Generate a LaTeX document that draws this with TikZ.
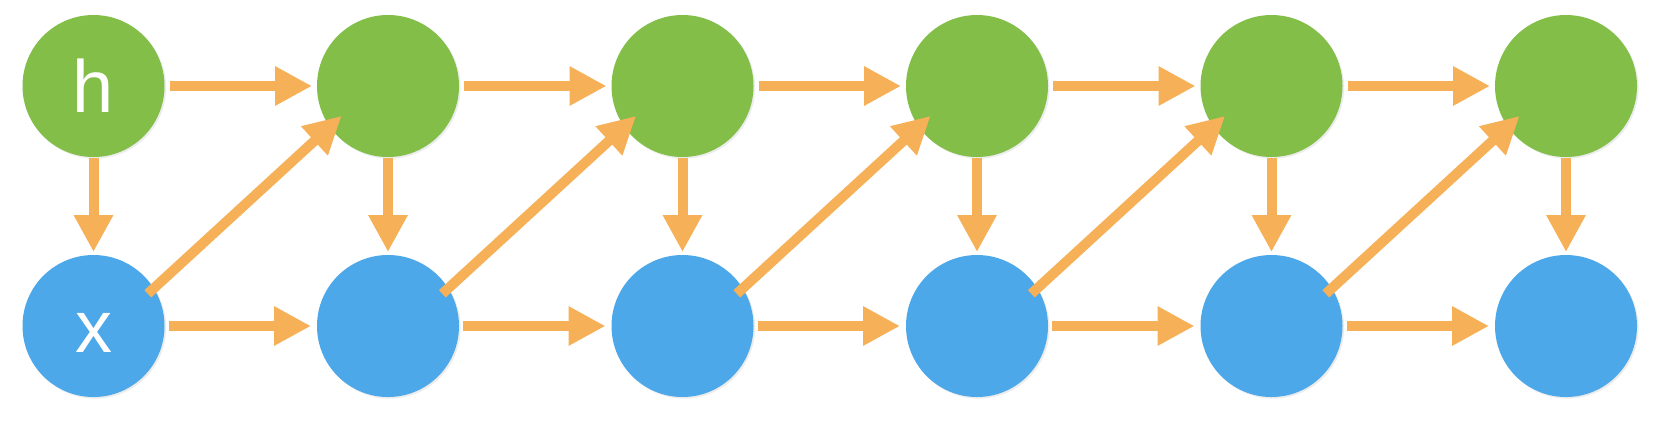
\documentclass[tikz,border=0pt]{standalone}
\usepackage{fontspec}
\setmainfont{Liberation Sans}
\usetikzlibrary{arrows.meta,shadows}
\definecolor{hgreen}{RGB}{130,190,72}
\definecolor{xblue}{RGB}{76,168,232}
\definecolor{arr}{RGB}{246,176,88}
\begin{document}
\begin{tikzpicture}[x=0.5pt,y=-0.5pt,
 cell/.style={circle, minimum size=71pt, inner sep=0pt, outer sep=0pt, text=white,
   font=\fontsize{37}{40}\selectfont, text height=26pt, text depth=0pt,
   drop shadow={opacity=0.15,shadow xshift=0.8pt,shadow yshift=-0.8pt}},
 hcell/.style={cell, fill=hgreen},
 xcell/.style={cell, fill=xblue},
 link/.style={draw=arr, line width=5pt, -{Triangle[length=18.5pt,width=18.5pt]}}
]
\fill[white] (0,0) rectangle (1660,420);
\useasboundingbox (0,0) rectangle (1660,420);
\node[hcell] (g0) at (93.5,86) {h};
\node[hcell] (g1) at (388,86) {};
\node[hcell] (g2) at (682.5,86) {};
\node[hcell] (g3) at (977,86) {};
\node[hcell] (g4) at (1271.5,86) {};
\node[hcell] (g5) at (1566,86) {};
\node[xcell] (b0) at (93.5,326) {x};
\node[xcell] (b1) at (388,326) {};
\node[xcell] (b2) at (682.5,326) {};
\node[xcell] (b3) at (977,326) {};
\node[xcell] (b4) at (1271.5,326) {};
\node[xcell] (b5) at (1566,326) {};
\foreach \i [evaluate=\i as \j using int(\i+1)] in {0,...,4} {
  \draw[link, shorten <=2.5pt, shorten >=2.5pt] (g\i) -- (g\j);
  \draw[link, shorten <=2pt, shorten >=3pt] (b\i) -- (b\j);
  \draw[link, shorten <=-4pt, shorten >=-8pt] (b\i.32) -- (g\j.215);
}
\foreach \i in {0,...,5}
  \draw[link, shorten <=0.5pt, shorten >=1.5pt] (g\i) -- (b\i);
\end{tikzpicture}
\end{document}
